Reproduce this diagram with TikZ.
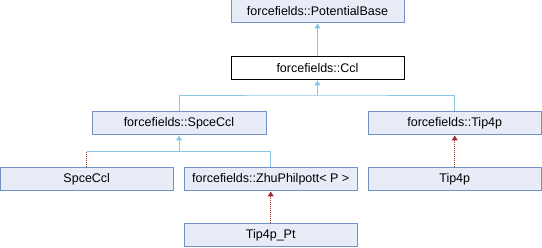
\documentclass[tikz,border=0pt]{standalone}
\usepackage{fontspec}
\setmainfont{Liberation Sans}
\usetikzlibrary{arrows.meta}
\definecolor{boxfill}{HTML}{E8ECF6}
\definecolor{boxline}{HTML}{7490C8}
\definecolor{publ}{HTML}{8CC6E6}
\definecolor{privl}{HTML}{9A2F2F}
\tikzset{
  cls/.style={draw=boxline,fill=boxfill,line width=1pt,minimum height=23pt,inner sep=0pt,font=\fontsize{12.5}{14}\selectfont},
  curcls/.style={cls,draw=black,fill=white},
  publine/.style={draw=publ,line width=1pt},
  pubarrow/.style={publine,-{Triangle[length=5pt,width=6pt]}},
  privline/.style={draw=privl,line width=1pt,dash pattern=on 1pt off 1pt},
  privarrow/.style={privline,-{Triangle[length=5pt,width=6pt]}},
}
\begin{document}
\begin{tikzpicture}[x=1pt,y=-1pt]
\useasboundingbox (0,0) rectangle (542,248);
\node[cls,minimum width=173pt] (pb) at (317.5,11.5) {forcefields::PotentialBase};
\node[curcls,minimum width=173pt] (ccl) at (317.5,68.5) {forcefields::Ccl};
\node[cls,minimum width=174pt] (sp) at (179,123.5) {forcefields::SpceCcl};
\node[cls,minimum width=173pt] (t4) at (454.75,123.5) {forcefields::Tip4p};
\node[cls,minimum width=172.5pt] (spc) at (86.75,179.5) {SpceCcl};
\node[cls,minimum width=173pt] (zp) at (270.75,179.5) {forcefields::ZhuPhilpott< P >};
\node[cls,minimum width=173pt] (tp) at (454.75,179.5) {Tip4p};
\node[cls,minimum width=173pt] (tpt) at (270.75,235.5) {Tip4p\_Pt};
\coordinate (b1) at (317.5,96);
\coordinate (b2) at (179,152);
% inheritance
\draw[pubarrow] (ccl.north) -- (pb.south);
\draw[pubarrow] (b1) -- (ccl.south);
\draw[publine] (sp.north) |- (b1) -| (t4.north);
\draw[pubarrow] (b2) -- (sp.south);
\draw[publine] (b2 -| spc.north) -- (b2 -| zp.north) -- (zp.north);
\draw[privline] (spc.north) -- (spc.north |- b2);
\draw[privarrow] (tp.north) -- (t4.south);
\draw[privarrow] (tpt.north) -- (zp.south);
\end{tikzpicture}
\end{document}
